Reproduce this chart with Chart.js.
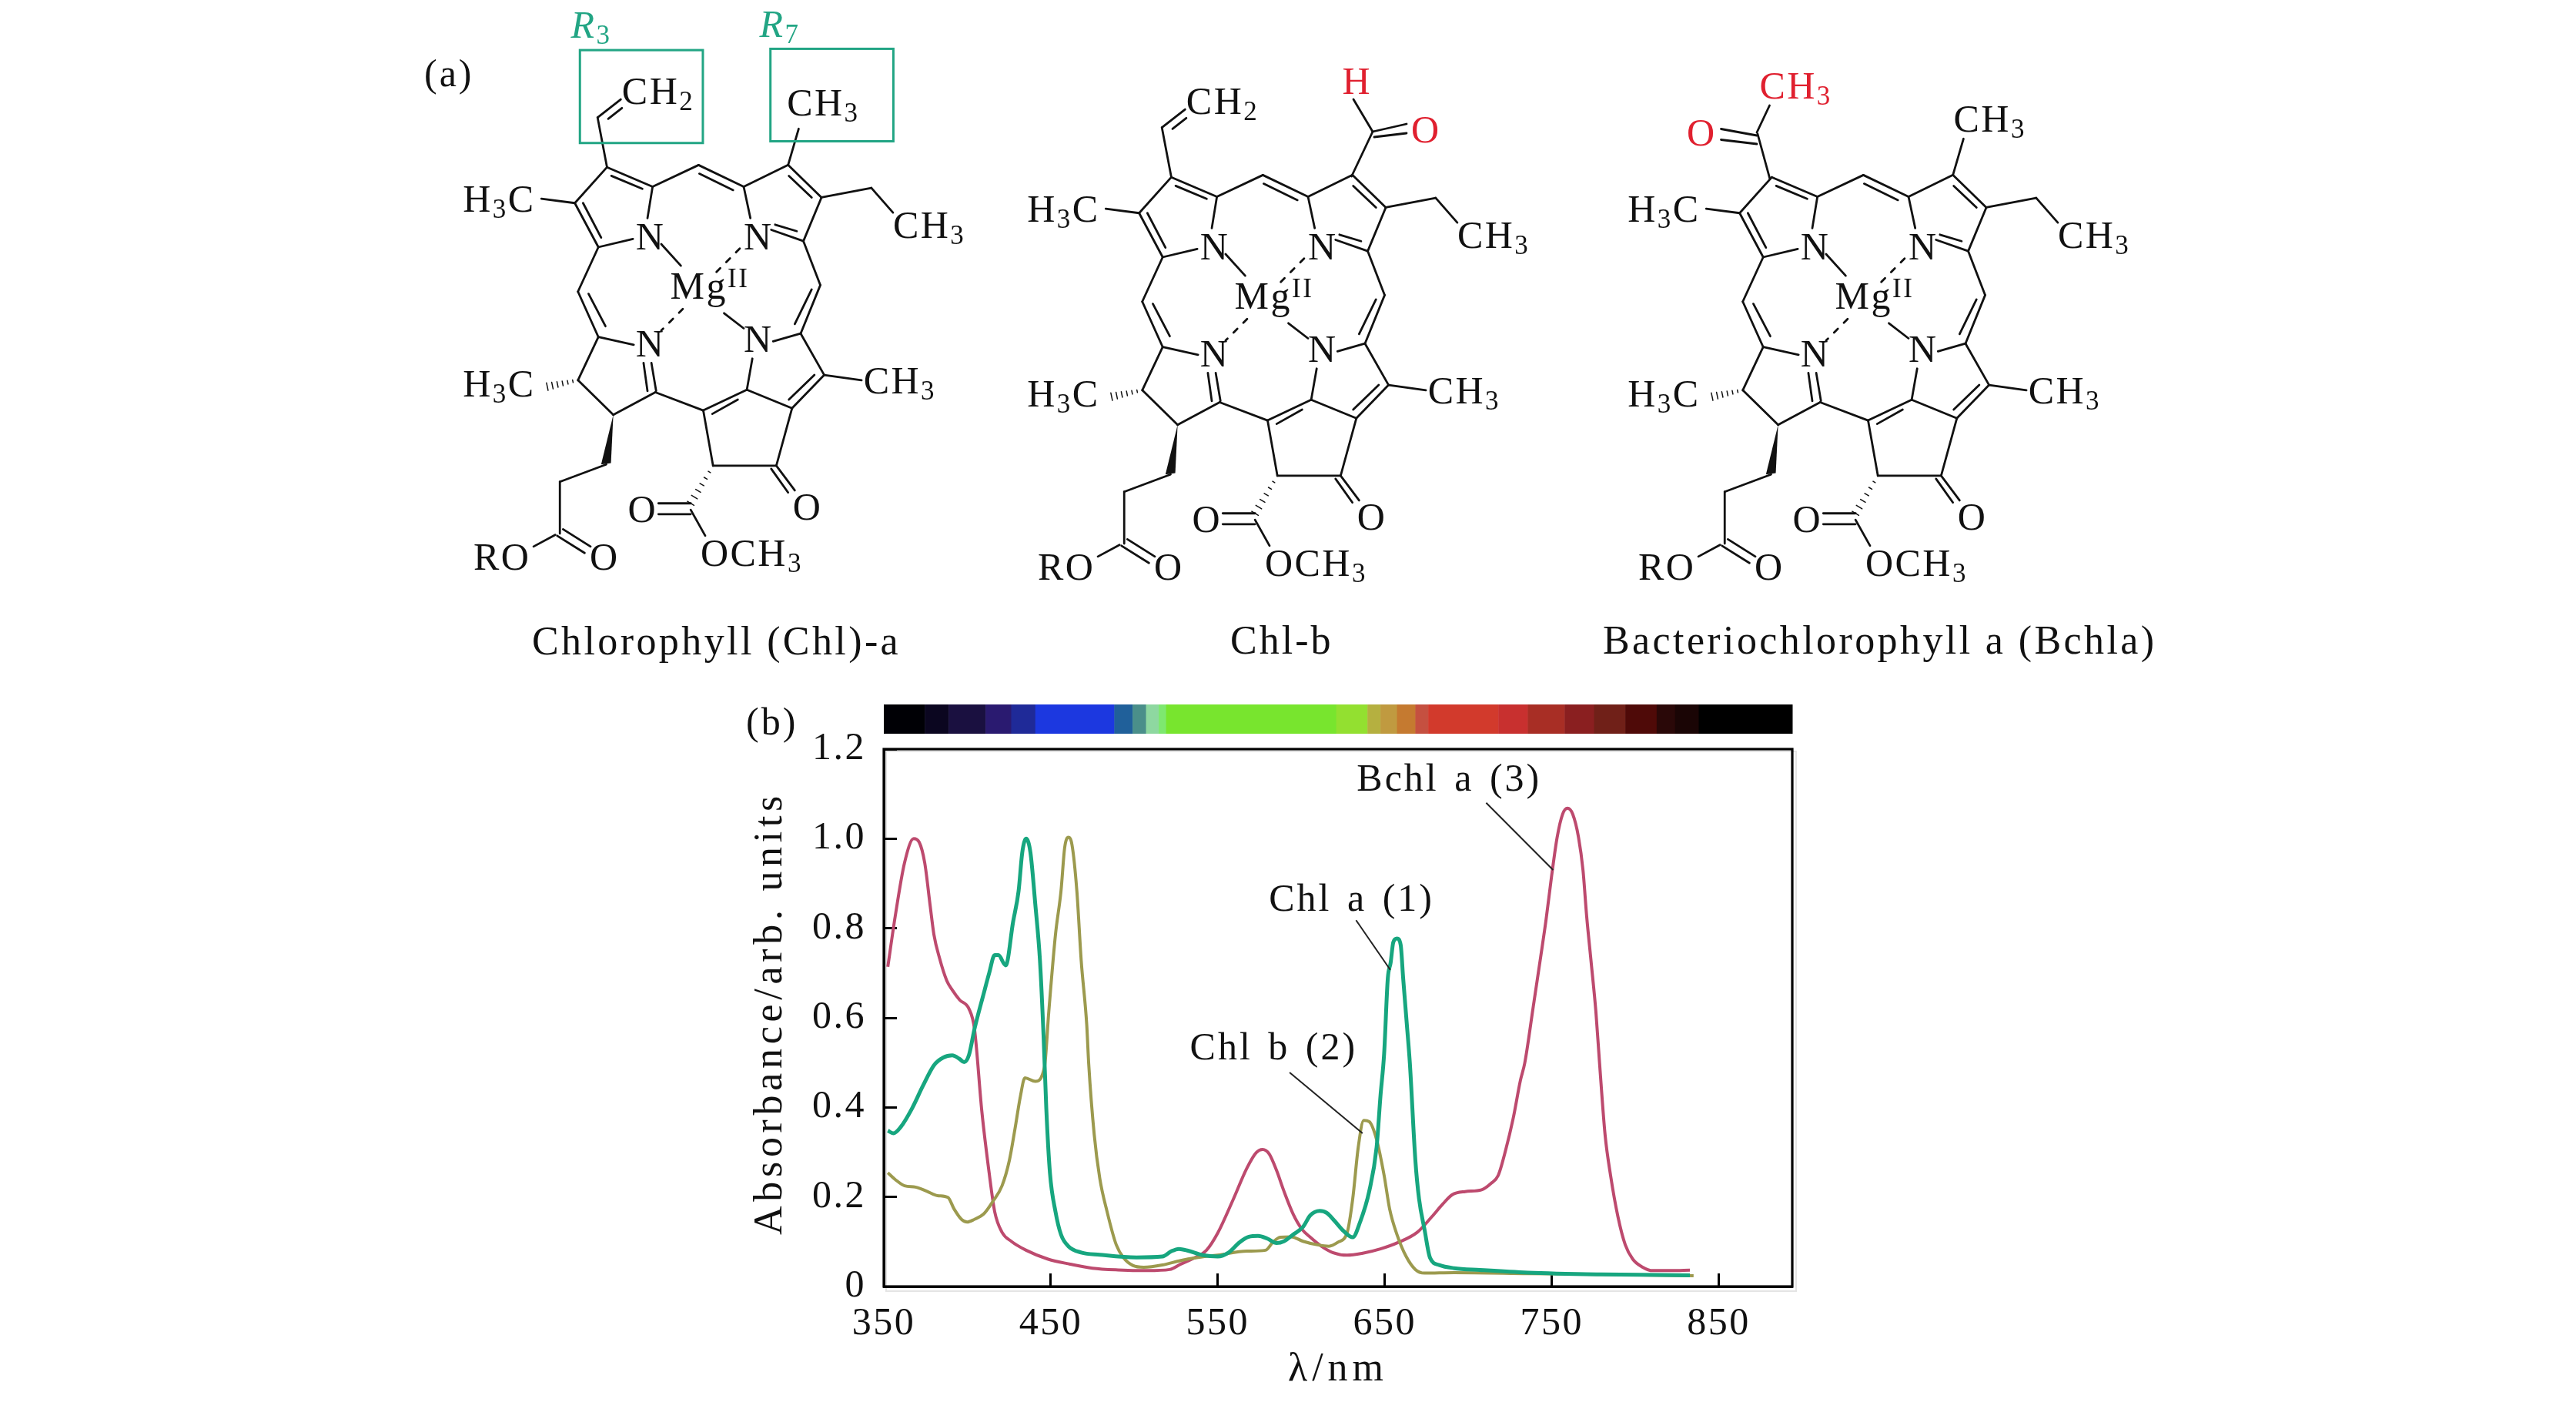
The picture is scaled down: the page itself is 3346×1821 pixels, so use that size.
<!DOCTYPE html>
<html>
<head>
<meta charset="utf-8">
<title>Chlorophyll absorbance</title>
<script src="https://cdn.jsdelivr.net/npm/chart.js@4"></script>
<style>
  html, body { margin: 0; background: #fff; }
  canvas { display: block; }
</style>
</head>
<body>
<canvas id="chart" width="3346" height="1821"></canvas>
<script>
/* ── curve values ───────────────────────────────────────────────────────── */
const bchlWave = [352.4,356.8,362.4,367.9,371.2,374.5,377.8,380,383.3,387.7,391,395.4,401,404.3,408.7,413.1,416.4,420.8,426.3,435.2,448.4,461.6,474.9,490.3,508,521.2,527.8,534.4,543.2,549.9,558.7,567.5,573,576.8,580.8,585.2,589.6,595.1,600.6,605.4,612,618.7,627.5,636.3,647.4,658.4,669.4,678.2,684.9,690.4,698.1,708,713.5,717.9,722.4,726.8,731.2,733.8,738.9,743.3,746.6,749.9,753.2,756.5,759.4,762.5,766,768.7,770.9,773.6,776.4,778.6,781.9,785.2,789.6,794,798.5,804,810.6,821.6,832.7];
const bchlValue = [0.714,0.826,0.946,1.0,0.992,0.946,0.849,0.786,0.734,0.683,0.662,0.64,0.62,0.575,0.391,0.253,0.167,0.121,0.101,0.081,0.061,0.05,0.041,0.037,0.0355,0.038,0.05,0.061,0.081,0.119,0.19,0.265,0.299,0.306,0.296,0.259,0.213,0.162,0.127,0.11,0.09,0.076,0.07,0.074,0.084,0.099,0.121,0.156,0.185,0.205,0.212,0.216,0.23,0.248,0.305,0.374,0.46,0.499,0.625,0.735,0.82,0.917,1.003,1.055,1.068,1.055,1.003,0.929,0.826,0.723,0.614,0.499,0.339,0.248,0.156,0.093,0.061,0.044,0.0355,0.0355,0.0367];

const chlAWave = [352.4,355.7,360.1,366.8,373.4,380,385.5,391,395.4,398.1,401,404.3,409.8,413.1,416.4,418.6,423,427.4,430.7,432.9,435.2,437.8,440.7,443.5,445.7,447.3,449.5,452.8,456.1,460.5,468.2,479.3,501.3,516.8,522.3,526.7,532.2,541,549.9,556.5,563.1,568.6,574.1,579.6,585.2,589.6,595.1,601,605.4,611,615.4,619.8,625.3,630.8,635.2,640.7,645.1,647.4,649.6,651.8,653.5,655.1,657.3,659.5,661,663.2,665,668.3,670.5,673.8,677.1,682.6,691.5,706.9,735.6,779.7,832.7];
const chlAValue = [0.348,0.342,0.356,0.397,0.448,0.494,0.511,0.516,0.508,0.501,0.517,0.575,0.654,0.7,0.74,0.74,0.717,0.814,0.883,0.969,1.0,0.969,0.854,0.728,0.556,0.397,0.253,0.167,0.116,0.09,0.076,0.071,0.065,0.067,0.079,0.084,0.08,0.07,0.067,0.076,0.099,0.111,0.113,0.107,0.097,0.101,0.116,0.133,0.159,0.169,0.164,0.147,0.124,0.11,0.144,0.213,0.311,0.425,0.52,0.688,0.723,0.769,0.777,0.763,0.688,0.585,0.499,0.282,0.196,0.127,0.064,0.048,0.041,0.037,0.031,0.027,0.025];

const chlBWave = [352.4,356.8,362.4,369,375.6,382.2,388.4,392.1,396.5,399.9,404.3,409.8,415.3,420.8,425.2,428.5,431.8,434.5,440.7,446.2,448.8,452.8,456.1,458.3,460.5,462.7,465.6,468.2,471.5,472.7,476,479.3,483.7,489.2,493.6,499.1,505.7,516.8,527.8,536.6,549.9,567.5,578.6,583,587.4,594,601,609.8,616.5,622,627.5,630.8,634.1,637.4,640.7,645.1,649.6,652.9,657.3,662.8,668.3,673.8,691.5,735.6,779.7,834.9];
const chlBValue = [0.254,0.239,0.225,0.222,0.213,0.203,0.199,0.173,0.15,0.144,0.15,0.162,0.19,0.225,0.282,0.351,0.425,0.466,0.458,0.49,0.614,0.786,0.883,0.98,1.003,0.986,0.883,0.728,0.585,0.497,0.339,0.242,0.167,0.093,0.064,0.047,0.043,0.048,0.058,0.064,0.07,0.079,0.081,0.099,0.11,0.111,0.101,0.093,0.09,0.099,0.121,0.196,0.311,0.371,0.368,0.328,0.248,0.173,0.116,0.067,0.038,0.03,0.031,0.029,0.027,0.024];

const xTicks = [350, 450, 550, 650, 750, 850];
const yTicks = [0, 0.2, 0.4, 0.6, 0.8, 1.0, 1.2];

/* colour strip: edges in nm and one colour per cell */
const stripEdges = [350,374.5,388.8,410.9,426.3,440.7,488,499,507,514.6,519,620.9,639.6,647.4,657.3,668.3,676,718,735.6,757.7,775.3,794,812.8,823.8,838,894];
const stripColors = ['#000005','#0b0620','#1a1040','#2a1a70','#1f2a98','#1c38e0','#20609a','#4a8f8a','#8ed8a0','#7ee870','#78e52e','#93e030','#b5b040','#c09a40','#c57a30','#c55040','#d23a2c','#c8302f','#a82e25','#8a1f20','#702018','#4f0a08','#2a0808','#1a0505','#000000'];

const RED = '#bd4a6e', GREEN = '#17a67f', OLIVE = '#9c9a4e';
const INK = '#111', TEAL = '#22a584', MARK = '#e0202f';
const SERIF = '"Liberation Serif", serif';

const pts = (xs, ys) => xs.map((x, i) => ({ x, y: ys[i] }));

/* ── text helper: _3 is a subscript, ^II a superscript ───────────────────── */
function putText(ctx, str, x, y, { size = 50, color = INK, italic = false, spacing = 2.5, word = 0 } = {}) {
  ctx.save();
  ctx.fillStyle = color;
  ctx.textAlign = 'left';
  ctx.textBaseline = 'alphabetic';
  ctx.wordSpacing = word + 'px';
  for (const m of str.matchAll(/_(\w)|\^(\w+)|[^_^]+/g)) {
    const small = m[1] || m[2];
    const style = italic && !small ? 'italic ' : '';
    ctx.font = style + (small ? Math.round(size * 0.7) : size) + 'px ' + SERIF;
    ctx.letterSpacing = spacing + 'px';
    const t = small || m[0];
    const dy = m[1] ? size * 0.16 : m[2] ? -size * 0.3 : 0;
    ctx.fillText(t, x, y + dy);
    x += ctx.measureText(t).width;
  }
  ctx.restore();
}

/* ── molecule skeleton, in px of the first structure before scaling ─────── */
const sx = x => 540 + x / 1.96;
const sy = y => y / 1.782;

const ringBonds = [
  [487,387,405,470],[405,470,465,572],[426,470,472,550],[465,572,553,553],[590,505,603,432],
  [603,432,487,387],[577,437,498,407],
  [603,432,720,382],[720,382,835,432],[722,402,808,440],
  [835,432,948,382],[948,382,1033,457],[950,407,1008,457],[1033,457,987,558],[987,558,905,532],[970,535,915,520],[852,505,835,432],
  [1033,457,1160,435],[1160,435,1215,492],
  [987,558,1030,660],[1030,660,980,772],[1008,670,965,750],
  [980,772,910,790],[857,830,843,902],[980,772,1040,868],[1040,868,958,945],[1015,868,950,925],[958,945,843,902],[1040,868,1135,880],
  [843,902,732,950],[820,925,755,958],
  [732,950,757,1078],[757,1078,918,1078],[918,1078,958,945],
  [918,1078,965,1135],[905,1085,948,1140],
  [700,1165,618,1165],[700,1190,618,1190],[700,1180,737,1240],
  [732,950,610,908],[580,840,590,905],[600,840,612,905],
  [610,908,503,960],[503,960,413,880],[413,880,465,780],[465,780,555,798],[465,780,413,675],[483,755,440,680],[413,675,465,572],
  [405,470,320,460],
  [485,1075,367,1115],[367,1115,367,1235],[375,1225,445,1265],[360,1240,430,1280],[355,1238,300,1265],
  [625,565,675,615],[785,725,835,760]
];
const dashedBonds = [[825,575,765,630],[680,715,625,765]];
const hashedBonds = [[757,1078,700,1165],[413,880,335,895]];
const wedge = [503,960,472,1075,497,1072];
const vinylBonds = [[487,387,463,272],[463,272,522,230],[490,275,525,250]];
const methylBond = [948,382,975,298];

const ringLabels = [
  ['H_3C',120,490],['CH_3',1215,550],['N',560,578],['N',835,578],['Mg^II',648,692],
  ['N',560,825],['N',835,815],['H_3C',120,918],['CH_3',1140,910],
  ['O',960,1203],['O',540,1208],['OCH_3',725,1310],['RO',147,1318],['O',443,1318]
];

const molecules = [
  { dx: 0, dy: 0, vinyl: true, methyl: true,
    caption: ['Chlorophyll (Chl)-a', 691, 850, 3.4] },
  { dx: 733, dy: 13, vinyl: true, methyl: false,
    caption: ['Chl-b', 1598, 849, 3] },
  { dx: 1513, dy: 13, vinyl: false, methyl: true,
    caption: ['Bacteriochlorophyll a (Bchla)', 2082, 849, 3.4] }
];

/* substituents that differ, in page px */
const chlBExtra = [[1755.6,229,1783,171],[1783,171,1758,129],[1783,171,1827,161],[1785,178,1827,173]];
const bchlExtra = [[2299,232.6,2283,174],[2282,172,2298.5,137],[2282,176,2235.5,167.5],[2282,187,2235.5,181.5]];

function seg(ctx, x1, y1, x2, y2) {
  ctx.beginPath();
  ctx.moveTo(x1, y1);
  ctx.lineTo(x2, y2);
  ctx.stroke();
}

function drawMolecule(ctx, m) {
  const X = x => sx(x) + m.dx, Y = y => sy(y) + m.dy;
  ctx.save();
  ctx.strokeStyle = INK;
  ctx.fillStyle = INK;
  ctx.lineWidth = 2.8;
  ctx.lineCap = 'round';
  const bonds = ringBonds.concat(m.vinyl ? vinylBonds : [], m.methyl ? [methylBond] : []);
  for (const b of bonds) seg(ctx, X(b[0]), Y(b[1]), X(b[2]), Y(b[3]));

  ctx.setLineDash([7, 11]);
  for (const b of dashedBonds) seg(ctx, X(b[0]), Y(b[1]), X(b[2]), Y(b[3]));
  ctx.setLineDash([]);

  ctx.lineWidth = 1.5;
  for (const h of hashedBonds) {
    const [x1, y1, x2, y2] = [X(h[0]), Y(h[1]), X(h[2]), Y(h[3])];
    const len = Math.hypot(x2 - x1, y2 - y1);
    const nx = -(y2 - y1) / len, ny = (x2 - x1) / len;
    for (let i = 1; i <= 6; i++) {
      const t = i / 6, w = 1 + t * 4;
      const cx = x1 + (x2 - x1) * t, cy = y1 + (y2 - y1) * t;
      seg(ctx, cx - nx * w, cy - ny * w, cx + nx * w, cy + ny * w);
    }
  }

  ctx.beginPath();
  ctx.moveTo(X(wedge[0]), Y(wedge[1]));
  ctx.lineTo(X(wedge[2]), Y(wedge[3]));
  ctx.lineTo(X(wedge[4]), Y(wedge[5]));
  ctx.closePath();
  ctx.fill();
  ctx.restore();

  for (const [t, x, y] of ringLabels) putText(ctx, t, X(x), Y(y));
  if (m.vinyl) putText(ctx, 'CH_2', X(525), Y(240));
  const c = m.caption;
  putText(ctx, c[0], c[1], c[2], { size: 52, spacing: c[3] });
}

const structuresPlugin = {
  id: 'structures',
  afterDraw(chart) {
    const ctx = chart.ctx;
    molecules.forEach(m => drawMolecule(ctx, m));

    // Chl-a: the two marked groups
    ctx.save();
    ctx.strokeStyle = TEAL;
    ctx.lineWidth = 3;
    ctx.strokeRect(sx(418), sy(116), (731 - 418) / 1.96, (331 - 116) / 1.782);
    ctx.strokeRect(sx(903), sy(113), (1216 - 903) / 1.96, (327 - 113) / 1.782);
    ctx.restore();
    putText(ctx, 'R_3', sx(395), sy(88), { color: TEAL, italic: true });
    putText(ctx, 'R_7', sx(875), sy(85), { color: TEAL, italic: true });
    putText(ctx, 'CH_3', sx(945), sy(268));

    // Chl-b: formyl group
    ctx.save();
    ctx.strokeStyle = INK;
    ctx.lineWidth = 2.8;
    ctx.lineCap = 'round';
    chlBExtra.concat(bchlExtra).forEach(b => seg(ctx, b[0], b[1], b[2], b[3]));
    ctx.restore();
    putText(ctx, 'H', 1743.5, 121.5, { color: MARK });
    putText(ctx, 'O', 1833, 185, { color: MARK });

    // Bchl: acetyl group
    putText(ctx, 'CH_3', 2285.4, 128.3, { color: MARK });
    putText(ctx, 'O', 2190.9, 188.7, { color: MARK });
    putText(ctx, 'CH_3', 2537.5, 170.7);

    putText(ctx, '(a)', 551, 112, { spacing: 3 });
    putText(ctx, '(b)', 969, 954, { spacing: 3 });
  }
};

/* ── things tied to the plot scales ──────────────────────────────────────── */
const curveNotes = [
  { text: 'Bchl a (3)', left: 633.2, base: 1.107, from: [710.7, 1.08], to: [750.8, 0.93] },
  { text: 'Chl a (1)', left: 580.6, base: 0.839, from: [632.8, 0.818], to: [653.3, 0.707] },
  { text: 'Chl b (2)', left: 533.3, base: 0.507, from: [593, 0.478], to: [636.7, 0.342] }
];

const framePlugin = {
  id: 'frame',
  beforeDraw(chart) {
    chart.ctx.letterSpacing = '2.5px';
    const { ctx, chartArea: a } = chart;
    ctx.save();
    ctx.fillStyle = '#fff';
    ctx.fillRect(0, 0, chart.width, chart.height);
    ctx.strokeStyle = '#e4e4e4';
    ctx.lineWidth = 2;
    ctx.strokeRect(a.left + 3, a.top + 3, a.right - a.left + 2, a.bottom - a.top + 3);
    ctx.restore();
  },
  afterDatasetsDraw(chart) {
    const { ctx, chartArea: a, scales: { x, y } } = chart;
    ctx.save();
    // colour strip over the plot, cells placed on the wavelength axis
    stripColors.forEach((c, i) => {
      const x1 = x.getPixelForValue(stripEdges[i]);
      const x2 = x.getPixelForValue(stripEdges[i + 1]);
      ctx.fillStyle = c;
      ctx.fillRect(x1, 915, x2 - x1 + 0.5, 38);
    });
    // closed box
    ctx.strokeStyle = '#000';
    ctx.lineWidth = 3.2;
    ctx.strokeRect(a.left, a.top, a.right - a.left, a.bottom - a.top);
    // leaders
    ctx.strokeStyle = '#222';
    ctx.lineWidth = 2;
    for (const n of curveNotes) {
      seg(ctx, x.getPixelForValue(n.from[0]), y.getPixelForValue(n.from[1]),
               x.getPixelForValue(n.to[0]), y.getPixelForValue(n.to[1]));
    }
    ctx.restore();
    for (const n of curveNotes) {
      putText(ctx, n.text, x.getPixelForValue(n.left), y.getPixelForValue(n.base), { spacing: 3, word: 5 });
    }
  }
};

/* the axis titles are tracked wider than the tick labels */
const spacedTitle = (spacing, dy) => s => {
  const drawTitle = s.drawTitle;
  s.drawTitle = function () {
    this.ctx.save();
    this.ctx.letterSpacing = spacing + 'px';
    this.ctx.translate(0, dy);
    drawTitle.call(this);
    this.ctx.restore();
  };
};

new Chart(document.getElementById('chart'), {
  type: 'scatter',
  data: {
    datasets: [
      { label: 'Chl a (1)', data: pts(chlAWave, chlAValue), borderColor: GREEN, borderWidth: 5 },
      { label: 'Chl b (2)', data: pts(chlBWave, chlBValue), borderColor: OLIVE, borderWidth: 4 },
      { label: 'Bchl a (3)', data: pts(bchlWave, bchlValue), borderColor: RED, borderWidth: 4 }
    ].map(ds => ({ ...ds, showLine: true, pointRadius: 0, fill: false, cubicInterpolationMode: 'monotone' }))
  },
  options: {
    responsive: false,
    animation: false,
    layout: { padding: { left: 900, right: 1018, top: 973, bottom: 10 } },
    plugins: { legend: { display: false }, tooltip: { enabled: false } },
    scales: {
      x: {
        type: 'linear', min: 350, max: 894,
        afterBuildTicks: s => { s.ticks = xTicks.map(value => ({ value })); },
        afterFit: s => { s.height = 140; },
        afterUpdate: spacedTitle(6, 0),
        grid: { drawOnChartArea: false, tickLength: -17, tickWidth: 3, tickColor: '#000' },
        border: { width: 3, color: '#000' },
        ticks: { padding: 36, color: INK, font: { family: SERIF, size: 50 }, maxRotation: 0, autoSkip: false },
        title: { display: true, text: 'λ/nm', color: INK, font: { family: SERIF, size: 52 }, padding: 0 }
      },
      y: {
        min: 0, max: 1.2,
        afterBuildTicks: s => { s.ticks = yTicks.map(value => ({ value })); },
        afterFit: s => { s.width = 248; },
        afterUpdate: spacedTitle(5.7, -3),
        grid: { drawOnChartArea: false, tickLength: -17, tickWidth: 3, tickColor: '#000' },
        border: { width: 3, color: '#000' },
        ticks: { padding: 40, color: INK, font: { family: SERIF, size: 50 }, callback: v => v === 0 ? '0' : v.toFixed(1) },
        title: { display: true, text: 'Absorbance/arb. units', color: INK, font: { family: SERIF, size: 52 }, padding: { top: 70, bottom: 0 } }
      }
    }
  },
  plugins: [framePlugin, structuresPlugin]
});
</script>
</body>
</html>
